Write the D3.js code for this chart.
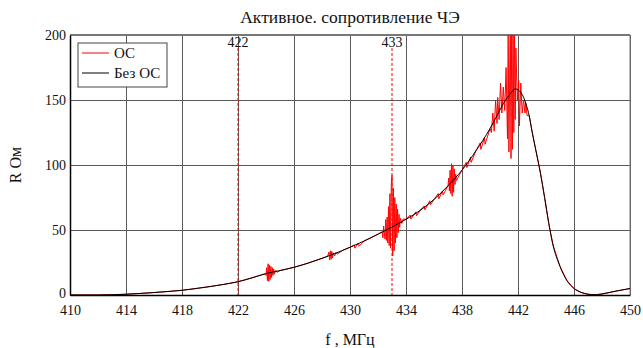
<!DOCTYPE html>
<html>
<head>
<meta charset="utf-8">
<script src="https://cdn.jsdelivr.net/npm/d3@7"></script>
<style>
  body { margin: 0; background: #fff; }
  svg { display: block; }
  svg text { font-family: "Liberation Serif", "Times New Roman", serif; fill: #111; }
</style>
</head>
<body>
<div id="chart"></div>
<script>
// axis ticks
const xTicks = [410, 414, 418, 422, 426, 430, 434, 438, 442, 446, 450];
const yTicks = [0, 50, 100, 150, 200];

// vertical markers
const markerFreqs = [422, 433];
const markerLabels = ['422', '433'];

// "Без ОС" (black) curve
const noOsFreq = [410, 411, 412, 413, 414, 415, 416, 417, 418, 419, 420, 421, 422, 423, 424, 425, 426, 427, 428, 429,
  430, 431, 432, 433, 434, 435, 436, 437, 438, 439, 440, 440.5, 441, 441.5, 441.8, 442.1, 442.4, 442.6, 442.8, 443,
  443.3, 443.6, 443.9, 444.2, 444.5, 445, 445.5, 446, 446.5, 447, 447.5, 448, 449, 450];
const noOsR = [0, 0, 0, 0.2, 0.6, 1.2, 1.9, 2.7, 3.6, 5.0, 6.5, 8.2, 10.2, 13.2, 16.5, 18.8, 21.3, 24.5, 28.2, 32.2,
  36.7, 41.5, 46.8, 52.3, 58.2, 65, 73.5, 84, 96, 111, 128, 138, 148, 155.5, 158.5, 157, 152, 146, 138, 126,
  110, 94, 75, 55, 38.5, 22, 11, 5, 2, 0.6, 0.2, 0.8, 3, 5];

// "ОС" (red) curve
const osFreq = [410, 411, 412, 413, 414, 415, 416, 417, 418, 419, 420, 421, 422, 423, 423.9,
  424.0, 424.05, 424.1, 424.15, 424.2, 424.25, 424.3, 424.35, 424.4, 424.45, 424.5, 424.55, 424.6, 424.7, 424.8,
  425, 426, 427, 428, 428.4, 428.5, 428.55, 428.6, 428.65, 428.7, 428.75, 428.8, 428.9, 429.0, 429.1, 429.5,
  430, 430.3, 430.35, 430.6, 430.65, 431, 431.5, 432, 432.3, 432.35, 432.4, 432.5, 432.55, 432.6, 432.65, 432.7,
  432.75, 432.8, 432.85, 432.9, 432.95, 433.0, 433.05, 433.1, 433.15, 433.2, 433.25, 433.3, 433.35, 433.4, 433.45,
  433.5, 433.55, 433.6, 433.7, 433.8, 434, 434.3, 434.35, 434.7, 434.75, 435, 435.3, 435.35, 435.7, 435.75, 436,
  436.3, 436.35, 436.6, 436.65, 437.0, 437.05, 437.1, 437.15, 437.2, 437.25, 437.3, 437.35, 437.4, 437.45, 437.5,
  437.55, 437.6, 438, 438.3, 438.35, 438.6, 438.65, 439.0, 439.3, 439.35, 439.6, 439.65, 440.0, 440.1, 440.2,
  440.3, 440.4, 440.5, 440.55, 440.65, 440.75, 440.85, 440.95, 441.05, 441.15, 441.25, 441.3, 441.35, 441.45,
  441.5, 441.55, 441.6, 441.65, 441.7, 441.75, 441.8, 441.85, 441.95, 442.05, 442.1, 442.2, 442.3, 442.4, 442.5,
  442.55, 442.65, 442.8, 443, 443.3, 443.6, 443.9, 444.2, 444.5, 445, 445.5, 446, 446.5, 447, 447.5, 448, 449, 450];
const osR = [0, 0, 0, 0.2, 0.6, 1.2, 1.9, 2.7, 3.6, 5.0, 6.5, 8.2, 10.2, 13.2, 16.2,
  15, 21, 11, 24, 10.5, 23, 12, 22, 13.5, 21, 15, 20, 16, 19, 17.5,
  18.8, 21.3, 24.5, 28.2, 29.8, 33, 27, 34, 27.5, 33.5, 28.5, 32.5, 30, 32.8, 31.5, 34.5,
  36.7, 38.5, 36, 40, 37.5, 41.5, 44, 46.8, 48.5, 44, 53, 43, 58, 42, 60, 40,
  68, 38, 78, 36, 85, 92, 30, 82, 34, 75, 40, 70, 44, 66, 48,
  62, 52, 59, 55, 58.5, 58.2, 61.5, 58.5, 64, 61, 65, 68.5, 65.5, 72.5, 69.5, 73.5,
  78, 74, 80, 77, 84, 90, 80, 96, 78, 101, 76, 100, 79, 97, 85,
  93, 88, 96, 102, 98, 106, 102, 111, 117, 112, 121, 116, 128, 125, 140,
  126, 150, 132, 152, 135, 163, 140, 160, 142, 175, 120, 205, 110, 210,
  105, 210, 112, 205, 125, 210, 135, 190, 150, 165, 130, 163, 140, 150, 140,
  148, 138, 138, 126, 110, 94, 75, 55, 38.5, 22, 11, 5, 2, 0.6, 0.2, 0.8, 3, 5];

const width = 643, height = 348;
const margin = { top: 35, right: 13, bottom: 53, left: 70 };
const w = width - margin.left - margin.right;
const h = height - margin.top - margin.bottom;
const serif = '"Liberation Serif", "Times New Roman", serif';

const svg = d3.select('#chart').append('svg')
  .attr('width', width)
  .attr('height', height)
  .attr('font-family', serif);

const g = svg.append('g').attr('transform', `translate(${margin.left},${margin.top})`);

const x = d3.scaleLinear().domain([410, 450]).range([0, w]);
const y = d3.scaleLinear().domain([0, 200]).range([h, 0]);

g.append('defs').append('clipPath').attr('id', 'plot-clip')
  .append('rect').attr('width', w).attr('height', h);

// grid
g.append('g')
  .attr('class', 'x-grid')
  .attr('transform', `translate(0,${h})`)
  .call(d3.axisBottom(x).tickValues(xTicks).tickSize(-h).tickFormat(''))
  .call(s => s.select('.domain').remove())
  .selectAll('line').attr('stroke', '#5a5a5a').attr('stroke-width', 1);

g.append('g')
  .attr('class', 'y-grid')
  .call(d3.axisLeft(y).tickValues(yTicks).tickSize(-w).tickFormat(''))
  .call(s => s.select('.domain').remove())
  .selectAll('line').attr('stroke', '#5a5a5a').attr('stroke-width', 1);

// frame: top and right gray, left and bottom black
g.append('line').attr('x1', 0).attr('x2', w).attr('y1', 0).attr('y2', 0)
  .attr('stroke', '#777').attr('stroke-width', 2);
g.append('line').attr('x1', w).attr('x2', w).attr('y1', 0).attr('y2', h)
  .attr('stroke', '#777').attr('stroke-width', 1);

// curves
const osData = osFreq.map((f, i) => [f, osR[i]]);
const noOsData = noOsFreq.map((f, i) => [f, noOsR[i]]);

const plot = g.append('g').attr('clip-path', 'url(#plot-clip)');

plot.append('path')
  .datum(osData)
  .attr('fill', 'none')
  .attr('stroke', '#ff0000')
  .attr('stroke-width', 1)
  .attr('d', d3.line().x(d => x(d[0])).y(d => y(d[1])));

// markers
markerFreqs.forEach((f, i) => {
  g.append('line')
    .attr('x1', x(f)).attr('x2', x(f))
    .attr('y1', 13).attr('y2', h)
    .attr('stroke', '#ff0000')
    .attr('stroke-width', 1)
    .attr('stroke-dasharray', '3,2');
  g.append('text')
    .attr('x', x(f)).attr('y', 12)
    .attr('text-anchor', 'middle')
    .style('font-size', '14px')
    .text(markerLabels[i]);
});

plot.append('path')
  .datum(noOsData)
  .attr('fill', 'none')
  .attr('stroke', '#000')
  .attr('stroke-width', 1)
  .attr('d', d3.line().curve(d3.curveMonotoneX).x(d => x(d[0])).y(d => y(d[1])));

// axes
g.append('g')
  .attr('class', 'x-axis')
  .attr('transform', `translate(0,${h})`)
  .call(d3.axisBottom(x).tickValues(xTicks).tickSize(0).tickPadding(10))
  .attr('font-family', serif)
  .call(s => s.select('.domain').attr('stroke', '#000').attr('stroke-width', 1.5))
  .selectAll('text').style('font-size', '14px').attr('fill', '#111');

g.append('g')
  .attr('class', 'y-axis')
  .call(d3.axisLeft(y).tickValues(yTicks).tickSize(0).tickPadding(4))
  .attr('font-family', serif)
  .call(s => s.select('.domain').attr('stroke', '#000').attr('stroke-width', 1.5))
  .selectAll('text').style('font-size', '14px').attr('fill', '#111')
  .attr('dy', d => d === 0 ? '0.2em' : '0.32em');

// legend
const legend = g.append('g').attr('transform', 'translate(8,8)');
legend.append('rect')
  .attr('width', 89).attr('height', 44)
  .attr('fill', '#fff').attr('stroke', '#444').attr('stroke-width', 1);
const legendItems = [['ОС', '#ff0000'], ['Без ОС', '#000']];
legendItems.forEach((d, i) => {
  legend.append('line')
    .attr('x1', 4).attr('x2', 31)
    .attr('y1', 10 + i * 20).attr('y2', 10 + i * 20)
    .attr('stroke', d[1]).attr('stroke-width', 1);
  legend.append('text')
    .attr('x', 36).attr('y', 15 + i * 20)
    .style('font-size', '15px')
    .text(d[0]);
});

// titles
svg.append('text')
  .attr('x', margin.left + w / 2).attr('y', 23)
  .attr('text-anchor', 'middle')
  .style('font-size', '17.5px')
  .text('Активное. сопротивление ЧЭ');

svg.append('text')
  .attr('x', margin.left + w / 2).attr('y', 345)
  .attr('text-anchor', 'middle')
  .style('font-size', '16px')
  .text('f , МГц');

svg.append('text')
  .attr('transform', `translate(21,${margin.top + h / 2}) rotate(-90)`)
  .attr('text-anchor', 'middle')
  .style('font-size', '16px')
  .text('R Ом');
</script>
</body>
</html>
